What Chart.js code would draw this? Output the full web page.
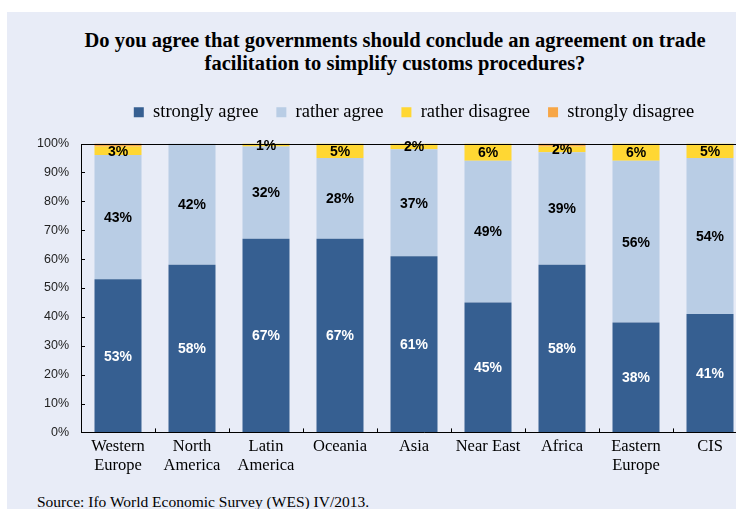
<!DOCTYPE html>
<html>
<head>
<meta charset="utf-8">
<script src="https://cdn.jsdelivr.net/npm/chart.js@4.4.0/dist/chart.umd.min.js"></script>
<style>
  html, body { margin: 0; padding: 0; width: 736px; height: 509px; overflow: hidden; background: #fff; }
  #panel { position: absolute; left: 7px; top: 12px; width: 760px; height: 520px; background: #E8ECF7; }
  #title { position: absolute; left: 7px; top: 29px; width: 776px; text-align: center;
           font-family: "Liberation Serif", "Times New Roman", serif; font-weight: bold;
           font-size: 20.5px; line-height: 23px; color: #000; }
  #wrap { position: absolute; left: 7px; top: 85px; width: 814px; height: 395px; }
  #source { position: absolute; left: 37px; top: 493px; font-family: "Liberation Serif", "Times New Roman", serif;
            font-size: 15.5px; color: #000; white-space: nowrap; }
</style>
</head>
<body>
<div id="panel"></div>
<div id="title">Do you agree that governments should conclude an agreement on trade<br>facilitation to simplify customs procedures?</div>
<div id="wrap"><canvas id="chart"></canvas></div>
<div id="source">Source: Ifo World Economic Survey (WES) IV/2013.</div>
<script>
var regions = [['Western', 'Europe'], ['North', 'America'], ['Latin', 'America'], 'Oceania', 'Asia',
               'Near East', 'Africa', ['Eastern', 'Europe'], 'CIS'];
var stronglyAgree    = [53, 58, 67, 67, 61, 45, 58, 38, 41];
var ratherAgree      = [43, 42, 32, 28, 37, 49, 39, 56, 54];
var ratherDisagree   = [3, 0, 1, 5, 2, 6, 2, 6, 5];
var stronglyDisagree = [1, 0, 0, 0, 0, 0, 1, 0, 0];
var yTicks = [0, 10, 20, 30, 40, 50, 60, 70, 80, 90, 100];

// extra room between the legend and the plot
var legendGap = {
  id: 'legendGap',
  beforeInit: function(chart) {
    var fit = chart.legend.fit;
    chart.legend.fit = function() {
      fit.call(this);
      this.height += 12;
    };
  }
};

// draws the frame, inward tick marks and the percentage labels
var decorations = {
  id: 'decorations',
  afterDatasetsDraw: function(chart) {
    var ctx = chart.ctx, a = chart.chartArea;
    var x = chart.scales.x, y = chart.scales.y;
    ctx.save();
    ctx.strokeStyle = '#000';
    ctx.lineWidth = 1;
    ctx.beginPath();
    ctx.moveTo(a.right + 20, Math.round(a.top) + 0.5);
    ctx.lineTo(Math.round(a.left) + 0.5, Math.round(a.top) + 0.5);
    ctx.lineTo(Math.round(a.left) + 0.5, Math.round(a.bottom) + 0.5);
    ctx.lineTo(a.right + 20, Math.round(a.bottom) + 0.5);
    yTicks.forEach(function(v) {
      var py = Math.round(y.getPixelForValue(v)) + 0.5;
      ctx.moveTo(a.left, py);
      ctx.lineTo(a.left + 4, py);
    });
    for (var i = 1; i <= regions.length; i++) {
      var px = Math.round((x.getPixelForValue(i - 1) + x.getPixelForValue(i)) / 2) + 0.5;
      ctx.moveTo(px, a.bottom);
      ctx.lineTo(px, a.bottom - 4);
    }
    ctx.stroke();

    ctx.font = 'bold 14px "Liberation Sans", Arial, sans-serif';
    ctx.textAlign = 'center';
    ctx.textBaseline = 'middle';
    chart.data.datasets.forEach(function(ds, di) {
      if (di === 3) return;
      var meta = chart.getDatasetMeta(di);
      meta.data.forEach(function(bar, i) {
        var v = ds.data[i];
        if (!v) return;
        ctx.fillStyle = di === 0 ? '#fff' : '#000';
        ctx.fillText(v + '%', bar.x, (bar.y + bar.base) / 2 + 1);
      });
    });
    ctx.restore();
  }
};

new Chart(document.getElementById('chart'), {
  type: 'bar',
  data: {
    labels: regions,
    datasets: [
      { label: 'strongly agree', data: stronglyAgree, backgroundColor: '#365F91' },
      { label: 'rather agree', data: ratherAgree, backgroundColor: '#B9CDE5' },
      { label: 'rather disagree', data: ratherDisagree, backgroundColor: '#FFD733' },
      { label: 'strongly disagree', data: stronglyDisagree, backgroundColor: '#F7A646' }
    ]
  },
  options: {
    responsive: true,
    maintainAspectRatio: false,
    animation: false,
    layout: { padding: 0 },
    datasets: { bar: { barPercentage: 0.635, categoryPercentage: 1 } },
    plugins: {
      title: { display: false },
      tooltip: { enabled: false },
      legend: {
        position: 'top',
        labels: {
          boxWidth: 10, boxHeight: 10, padding: 18, color: '#000',
          font: { family: '"Liberation Serif", "Times New Roman", serif', size: 18.5 }
        }
      }
    },
    scales: {
      x: {
        stacked: true,
        grid: { display: false, drawTicks: false, tickLength: 0 },
        border: { display: false },
        ticks: { color: '#000', padding: 4, maxRotation: 0,
                 font: { family: '"Liberation Serif", "Times New Roman", serif', size: 16.5, lineHeight: 1.2 } }
      },
      y: {
        stacked: true,
        min: 0, max: 100,
        afterFit: function(s) { s.width = 74; },
        grid: { display: false, drawTicks: false },
        border: { display: false },
        ticks: { stepSize: 10, padding: 12, color: '#222',
                 callback: function(v) { return v + '%'; },
                 font: { family: '"Liberation Sans", Arial, sans-serif', size: 12.5 } }
      },
      y2: {
        position: 'right',
        display: true,
        afterFit: function(s) { s.width = 74; },
        grid: { display: false, drawTicks: false },
        border: { display: false },
        ticks: { display: false }
      }
    }
  },
  plugins: [legendGap, decorations]
});
</script>
</body>
</html>
